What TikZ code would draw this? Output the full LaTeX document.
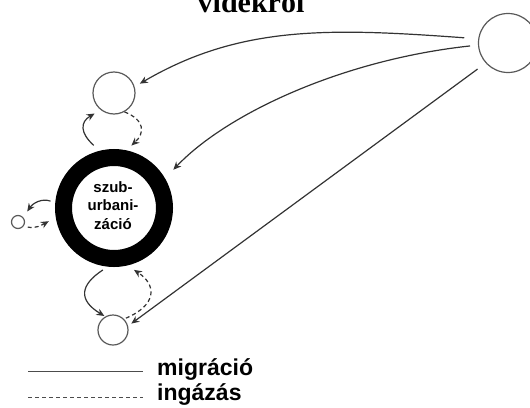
\documentclass[tikz,border=0pt]{standalone}
\usepackage{fontspec}
\setmainfont{Liberation Serif}
\newfontfamily\arialfont{Liberation Sans}
\usetikzlibrary{arrows.meta}

\begin{document}
\begin{tikzpicture}[x=1pt,y=-1pt,
	town/.style={circle,draw=black!65,line width=1.2pt,inner sep=0pt},
	mig/.style={draw=black!80,line width=1.2pt,-{Stealth[length=8pt,width=7pt]}},
	ing/.style={mig,dash pattern=on 4pt off 3pt}]
	\useasboundingbox (0,0) rectangle (530,407);
	\node[anchor=base,font=\bfseries\fontsize{30}{30}\selectfont] (cim) at (251,12.5) {vidékről};
	\node[town,minimum size=59pt] (videk) at (508,43) {};
	\node[town,minimum size=42pt] (felso) at (114,93) {};
	\node[town,minimum size=13pt] (bal) at (18,222) {};
	\node[town,minimum size=30pt] (also) at (113,330) {};
	\node[circle,draw=black,line width=17pt,minimum size=101pt,inner sep=0pt] (varos) at (114,208) {};
	\node[align=center,inner sep=0pt,
		font=\arialfont\bfseries\fontsize{15}{18.5}\selectfont] (felirat) at (113,205.5) {szub-\\urbani-\\záció};
	% migracio videkrol
	\draw[mig,shorten <=14pt,shorten >=6pt] (videk.172) .. controls (330,28) and (240,25) .. (felso.17);
	\draw[mig,shorten <=8pt,shorten >=12pt] (videk.184) .. controls (340,60) and (225,115) .. (varos.30);
	\draw[mig,shorten <=10pt,shorten >=4pt] (videk.222) -- (also.15);
	% helyi mozgasok
	\draw[mig,shorten <=8pt,shorten >=7pt] (varos.104) .. controls (80,133) and (80,122) .. (felso.232);
	\draw[ing,shorten >=7pt] (felso.299) .. controls (145,120) and (145,133) .. (varos.78);
	\draw[mig,shorten <=5pt,shorten >=7pt] (varos.175) .. controls (42,198) and (33,203) .. (bal.42);
	\draw[ing,shorten <=4pt,shorten >=8pt] (bal.326) .. controls (35,229) and (42,225) .. (varos.189);
	\draw[mig,shorten <=6pt,shorten >=1pt] (varos.264) .. controls (80,285) and (78,300) .. (also.120);
	\draw[ing,shorten <=2pt,shorten >=8pt] (also.45) .. controls (157,305) and (157,285) .. (varos.283);
	% jelmagyarazat
	\coordinate (m1) at (28,371);
	\coordinate (m2) at (143,371);
	\coordinate (i1) at (28,397);
	\coordinate (i2) at (143,397);
	\draw[draw=black!70,line width=1pt] (m1) -- (m2);
	\draw[draw=black!70,line width=1pt,dash pattern=on 4pt off 3pt] (i1) -- (i2);
	\node[anchor=base west,font=\arialfont\bfseries\fontsize{23}{23}\selectfont,inner sep=0pt] (migr) at (157,375) {migráció};
	\node[anchor=base west,font=\arialfont\bfseries\fontsize{23}{23}\selectfont,inner sep=0pt] (inga) at (157,400) {ingázás};
\end{tikzpicture}
\end{document}
